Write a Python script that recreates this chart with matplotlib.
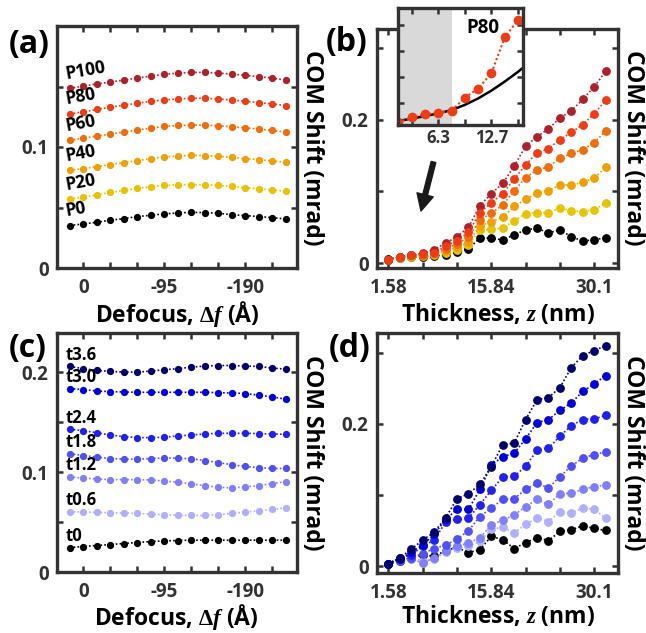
import matplotlib
matplotlib.use('Agg')
import matplotlib.pyplot as plt

plt.rcParams['font.family'] = ['Open Sans', 'DejaVu Sans']
plt.rcParams['font.weight'] = 'bold'
plt.rcParams['mathtext.fontset'] = 'custom'
plt.rcParams['mathtext.rm'] = 'Liberation Serif:bold'
plt.rcParams['mathtext.it'] = 'Liberation Serif:italic:bold'
plt.rcParams['mathtext.bf'] = 'Liberation Serif:bold'

# ---------------- data ----------------
defocus = [15.83, 0.0, -15.83, -31.67, -47.5, -63.33, -79.17, -95.0, -110.83,
           -126.67, -142.5, -158.33, -174.17, -190.0, -205.83, -221.67, -237.5]
defocus_ticks = [0.0, -31.67, -63.33, -95.0, -126.67, -158.33, -190.0, -221.67]
defocus_ticklabels = ['0', '', '', '-95', '', '', '-190', '']

thickness = [1.58, 3.17, 4.75, 6.34, 7.92, 9.50, 11.09, 12.67, 14.26, 15.84,
             17.42, 19.01, 20.59, 22.18, 23.76, 25.34, 26.93, 28.51, 30.10, 31.68]
thick_ticks = [1.58, 6.34, 11.09, 15.84, 20.59, 25.34, 30.10]
thick_ticklabels = ['1.58', '', '', '15.84', '', '', '30.1']

# panel (a): COM shift vs defocus for P-series
a_labels = ['P0', 'P20', 'P40', 'P60', 'P80', 'P100']
a_P0 = [0.0351, 0.0364, 0.0378, 0.0395, 0.0408, 0.0425, 0.0436, 0.0447, 0.0455,
        0.0460, 0.0458, 0.0452, 0.0441, 0.0433, 0.0425, 0.0416, 0.0405]
a_P20 = [0.0570, 0.0586, 0.0603, 0.0625, 0.0641, 0.0658, 0.0671, 0.0682, 0.0688,
         0.0690, 0.0688, 0.0682, 0.0674, 0.0663, 0.0655, 0.0644, 0.0636]
a_P40 = [0.0808, 0.0822, 0.0838, 0.0855, 0.0871, 0.0888, 0.0904, 0.0918, 0.0926,
         0.0932, 0.0929, 0.0923, 0.0915, 0.0904, 0.0896, 0.0885, 0.0874]
a_P60 = [0.1055, 0.1074, 0.1090, 0.1107, 0.1123, 0.1140, 0.1156, 0.1170, 0.1178,
         0.1181, 0.1181, 0.1175, 0.1167, 0.1159, 0.1148, 0.1137, 0.1123]
a_P80 = [0.1274, 0.1290, 0.1310, 0.1329, 0.1345, 0.1362, 0.1378, 0.1389, 0.1397,
         0.1403, 0.1403, 0.1397, 0.1389, 0.1378, 0.1367, 0.1356, 0.1342]
a_P100 = [0.1485, 0.1504, 0.1521, 0.1537, 0.1553, 0.1570, 0.1586, 0.1600, 0.1611,
          0.1616, 0.1616, 0.1611, 0.1603, 0.1592, 0.1581, 0.1570, 0.1553]

# panel (b): COM shift vs thickness for P-series
b_P0 = [0.0056, 0.008, 0.009, 0.009, 0.010, 0.0115, 0.0154, 0.020, 0.035, 0.035,
        0.0326, 0.0395, 0.0465, 0.0488, 0.042, 0.0465, 0.037, 0.031, 0.0326, 0.0358]
b_P20 = [0.005, 0.008, 0.009, 0.010, 0.012, 0.014, 0.018, 0.025, 0.0465, 0.047,
         0.049, 0.059, 0.069, 0.0705, 0.0705, 0.0767, 0.073, 0.072, 0.0744, 0.0837]
b_P40 = [0.005, 0.009, 0.010, 0.011, 0.013, 0.017, 0.022, 0.029, 0.052, 0.058,
         0.064, 0.079, 0.089, 0.098, 0.101, 0.109, 0.109, 0.1125, 0.1186, 0.1335]
b_P60 = [0.005, 0.009, 0.011, 0.012, 0.015, 0.020, 0.027, 0.036, 0.060, 0.070,
         0.081, 0.101, 0.119, 0.130, 0.134, 0.146, 0.153, 0.158, 0.168, 0.184]
b_P80 = [0.005, 0.0089, 0.0112, 0.0122, 0.014, 0.024, 0.031, 0.043, 0.0706, 0.084,
         0.097, 0.117, 0.137, 0.1535, 0.1595, 0.172, 0.182, 0.193, 0.208, 0.2265]
b_P100 = [0.005, 0.009, 0.0115, 0.014, 0.019, 0.028, 0.037, 0.050, 0.080, 0.097,
          0.111, 0.135, 0.163, 0.176, 0.187, 0.202, 0.212, 0.228, 0.2455, 0.267]

# inset of (b): P80 for the first 10 thicknesses and the fitted black curve
inset_n = 10
inset_curve_x = [1.58, 3.17, 4.75, 6.34, 7.92, 9.50, 11.09, 12.67, 14.26, 15.84, 16.40]
inset_curve_y = [0.0060, 0.0080, 0.0098, 0.0120, 0.0145, 0.0185, 0.0235, 0.0295,
                 0.0365, 0.0440, 0.0470]
inset_shade_end = 8.0
inset_ticks = [3.17, 6.34, 9.50, 12.67, 15.84]
inset_ticklabels = ['', '6.3', '', '12.7', '']

# panel (c): COM shift vs defocus for t-series
c_labels = ['t0', 't0.6', 't1.2', 't1.8', 't2.4', 't3.0', 't3.6']
c_t0 = [0.0245, 0.0255, 0.0265, 0.0275, 0.0285, 0.0295, 0.0305, 0.0311, 0.0315,
        0.0318, 0.0318, 0.0318, 0.0318, 0.0318, 0.0318, 0.0318, 0.0318]
c_t06 = [0.0603, 0.0599, 0.0596, 0.0593, 0.0589, 0.0586, 0.0579, 0.0573, 0.0569,
         0.0566, 0.0566, 0.0573, 0.0586, 0.0599, 0.0613, 0.0626, 0.0642]
c_t12 = [0.0950, 0.0940, 0.0930, 0.0924, 0.0924, 0.0924, 0.0920, 0.0910, 0.0897,
         0.0881, 0.0864, 0.0847, 0.0841, 0.0851, 0.0864, 0.0884, 0.0904]
c_t18 = [0.1182, 0.1165, 0.1149, 0.1135, 0.1129, 0.1129, 0.1135, 0.1139, 0.1139,
         0.1132, 0.1115, 0.1095, 0.1072, 0.1056, 0.1043, 0.1036, 0.1036]
c_t24 = [0.1427, 0.1413, 0.1393, 0.1370, 0.1354, 0.1344, 0.1344, 0.1348, 0.1361,
         0.1370, 0.1380, 0.1387, 0.1387, 0.1387, 0.1384, 0.1380, 0.1377]
c_t30 = [0.1834, 0.1824, 0.1810, 0.1804, 0.1800, 0.1797, 0.1797, 0.1797, 0.1797,
         0.1797, 0.1797, 0.1794, 0.1790, 0.1785, 0.1768, 0.1751, 0.1728]
c_t36 = [0.2056, 0.2033, 0.2016, 0.2006, 0.1999, 0.1999, 0.2009, 0.2023, 0.2033,
         0.2049, 0.2059, 0.2065, 0.2065, 0.2059, 0.2056, 0.2039, 0.2029]

# panel (d): COM shift vs thickness for t-series
d_t0 = [0.0038, 0.007, 0.012, 0.0164, 0.014, 0.0221, 0.0267, 0.0192, 0.0235, 0.0422,
        0.0375, 0.025, 0.0333, 0.0403, 0.0361, 0.049, 0.0515, 0.057, 0.0533, 0.0505]
d_t06 = [0.004, 0.010, 0.012, 0.008, 0.010, 0.020, 0.026, 0.028, 0.035, 0.052,
         0.055, 0.047, 0.059, 0.068, 0.063, 0.077, 0.075, 0.082, 0.080, 0.068]
d_t12 = [0.004, 0.012, 0.010, 0.005, 0.012, 0.022, 0.028, 0.033, 0.040, 0.058,
         0.065, 0.072, 0.084, 0.094, 0.087, 0.102, 0.103, 0.108, 0.112, 0.114]
d_t18 = [0.004, 0.008, 0.012, 0.018, 0.025, 0.030, 0.038, 0.050, 0.070, 0.082,
         0.094, 0.095, 0.108, 0.117, 0.110, 0.126, 0.141, 0.152, 0.157, 0.161]
d_t24 = [0.004, 0.0117, 0.0164, 0.028, 0.037, 0.0618, 0.0665, 0.0679, 0.0866, 0.1068,
         0.1255, 0.1264, 0.1405, 0.163, 0.166, 0.1826, 0.1977, 0.2062, 0.207, 0.212]
d_t30 = [0.004, 0.010, 0.020, 0.030, 0.045, 0.066, 0.080, 0.080, 0.108, 0.142,
         0.154, 0.159, 0.179, 0.202, 0.206, 0.219, 0.2295, 0.2456, 0.256, 0.268]
d_t36 = [0.004, 0.012, 0.024, 0.037, 0.048, 0.068, 0.095, 0.102, 0.115, 0.140,
         0.171, 0.173, 0.206, 0.234, 0.237, 0.251, 0.279, 0.296, 0.303, 0.310]

warm_colors = ['#000000', '#e8c300', '#f0a000', '#f06e0a', '#f03c14', '#b0202a']
blue_colors = ['#000000', '#b0b0ff', '#8080ff', '#5050fa', '#2020f0', '#0000dc', '#00006e']

# ---------------- layout ----------------
W, H = 646, 633
fig = plt.figure(figsize=(W / 100, H / 100), dpi=100)


def rect(l, t, r, b):
    return [l / W, 1 - b / H, (r - l) / W, (b - t) / H]


FRAME = '#333333'


def style(ax, size=13.5, xpad=7, ypad=6):
    for s in ax.spines.values():
        s.set_linewidth(2.4)
        s.set_color(FRAME)
    ax.tick_params(direction='in', length=4, width=1.8, color=FRAME,
                   top=True, right=True, labelsize=size, labelcolor='#333333')
    ax.tick_params(axis='x', pad=xpad)
    ax.tick_params(axis='y', pad=ypad)
    ax.set_facecolor('white')


LS = (0, (1, 1.3))

ax_a = fig.add_axes(rect(57, 26, 297, 268))
ax_b = fig.add_axes(rect(377, 29, 618, 268))
ax_c = fig.add_axes(rect(57, 333, 297, 572))
ax_d = fig.add_axes(rect(377, 333, 618, 573))

# (a)
a_series = [a_P0, a_P20, a_P40, a_P60, a_P80, a_P100]
for ys, col, lab in zip(a_series, warm_colors, a_labels):
    ax_a.plot(defocus, ys, linestyle=LS, lw=1.2, color=col, marker='o', ms=4.2,
              mec=col, mfc=col)
    ax_a.annotate(lab, xy=(defocus[0], ys[0]), xytext=(-4, 4), textcoords='offset points',
                  ha='left', va='bottom', rotation=10, fontsize=12.5, color='black')
ax_a.set_xlim(30.9, -250.6)
ax_a.set_ylim(0, 0.2)

# (c)
c_series = [c_t0, c_t06, c_t12, c_t18, c_t24, c_t30, c_t36]
for ys, col, lab in zip(c_series, blue_colors, c_labels):
    ax_c.plot(defocus, ys, linestyle=LS, lw=1.2, color=col, marker='o', ms=4.2,
              mec=col, mfc=col)
    ax_c.annotate(lab, xy=(defocus[0], ys[0]), xytext=(-3, 2), textcoords='offset points',
                  ha='left', va='bottom', fontsize=12, color='black')
ax_c.set_xlim(30.9, -250.6)
ax_c.set_ylim(0, 0.239)

for ax in (ax_a, ax_c):
    ax.set_xticks(defocus_ticks)
    ax.set_xticklabels(defocus_ticklabels)
ax_a.set_yticks([0, 0.05, 0.1, 0.15])
ax_a.set_yticklabels(['0', '', '0.1', ''])
ax_c.set_yticks([0, 0.05, 0.1, 0.15, 0.2])
ax_c.set_yticklabels(['0', '', '0.1', '', '0.2'])

# (b)
b_series = [b_P0, b_P20, b_P40, b_P60, b_P100, b_P80]
b_cols = [warm_colors[0], warm_colors[1], warm_colors[2], warm_colors[3],
          warm_colors[5], warm_colors[4]]
for ys, col in zip(b_series, b_cols):
    ax_b.plot(thickness, ys, linestyle=LS, lw=1.2, color=col, marker='o', ms=5.3,
              mec=col, mfc=col)
ax_b.set_xlim(0.0, 33.4)
ax_b.set_ylim(-0.0066, 0.326)

# (d)
d_series = [d_t0, d_t06, d_t12, d_t18, d_t24, d_t30, d_t36]
for ys, col in zip(d_series, blue_colors):
    ax_d.plot(thickness, ys, linestyle=LS, lw=1.2, color=col, marker='o', ms=5.3,
              mec=col, mfc=col)
ax_d.set_xlim(0.0, 33.4)
ax_d.set_ylim(-0.0093, 0.3277)

for ax in (ax_b, ax_d):
    ax.set_xticks(thick_ticks)
    ax.set_xticklabels(thick_ticklabels)
    ax.set_yticks([0, 0.1, 0.2, 0.3])
    ax.set_yticklabels(['0', '', '0.2', ''])

for ax in (ax_a, ax_b, ax_c, ax_d):
    style(ax)

# inset
ax_in = fig.add_axes(rect(398.3, 8.3, 522.7, 125), zorder=5)
ax_in.axvspan(thickness[0] - 1, inset_shade_end, color='#d9d9d9', lw=0)
ax_in.plot(inset_curve_x, inset_curve_y, color='black', lw=1.8)
ax_in.plot(thickness[:inset_n], b_P80[:inset_n], linestyle=(0, (1, 1.2)), lw=1.5,
           color=warm_colors[4], marker='o', ms=6, mec=warm_colors[4], mfc=warm_colors[4])
ax_in.set_xlim(1.58, 16.4)
ax_in.set_ylim(0.003, 0.093)
ax_in.set_xticks(inset_ticks)
ax_in.set_xticklabels(inset_ticklabels)
ax_in.set_yticks([0.02, 0.04, 0.06, 0.08])
ax_in.set_yticklabels([])
style(ax_in, size=12, xpad=3, ypad=3)
ax_in.text(0.68, 0.83, 'P80', transform=ax_in.transAxes, ha='center', va='center',
           fontsize=13.5, color='black')

# arrow in (b)
ax_b.annotate('', xy=(421 / W, 1 - 211 / H), xytext=(433.5 / W, 1 - 162 / H),
              xycoords='figure fraction', textcoords='figure fraction',
              arrowprops=dict(width=3.4, headwidth=12, headlength=12, color='#1a1a1a',
                              shrink=0))

# axis labels
xl_a = 'Defocus, $\\Delta f$ (Å)'
xl_b = 'Thickness, $z$ (nm)'
yl = 'COM Shift (mrad)'
LBL = 16.5
fig.text(177 / W, 1 - 314 / H, xl_a, ha='center', va='center', fontsize=LBL)
fig.text(498 / W, 1 - 314 / H, xl_b, ha='center', va='center', fontsize=LBL)
fig.text(176 / W, 1 - 617 / H, xl_a, ha='center', va='center', fontsize=LBL)
fig.text(498 / W, 1 - 617 / H, xl_b, ha='center', va='center', fontsize=LBL)
for x, y in [(312, 148), (633, 148), (312, 453), (633, 453)]:
    fig.text(x / W, 1 - y / H, yl, ha='center', va='center', rotation=270, fontsize=LBL)

# panel letters
for t, x, y in [('(a)', 29, 44), ('(b)', 347, 43), ('(c)', 28, 349), ('(d)', 350, 349)]:
    fig.text(x / W, 1 - y / H, t, ha='center', va='center', fontsize=23, color='black')

fig.savefig('out.png', dpi=100)
